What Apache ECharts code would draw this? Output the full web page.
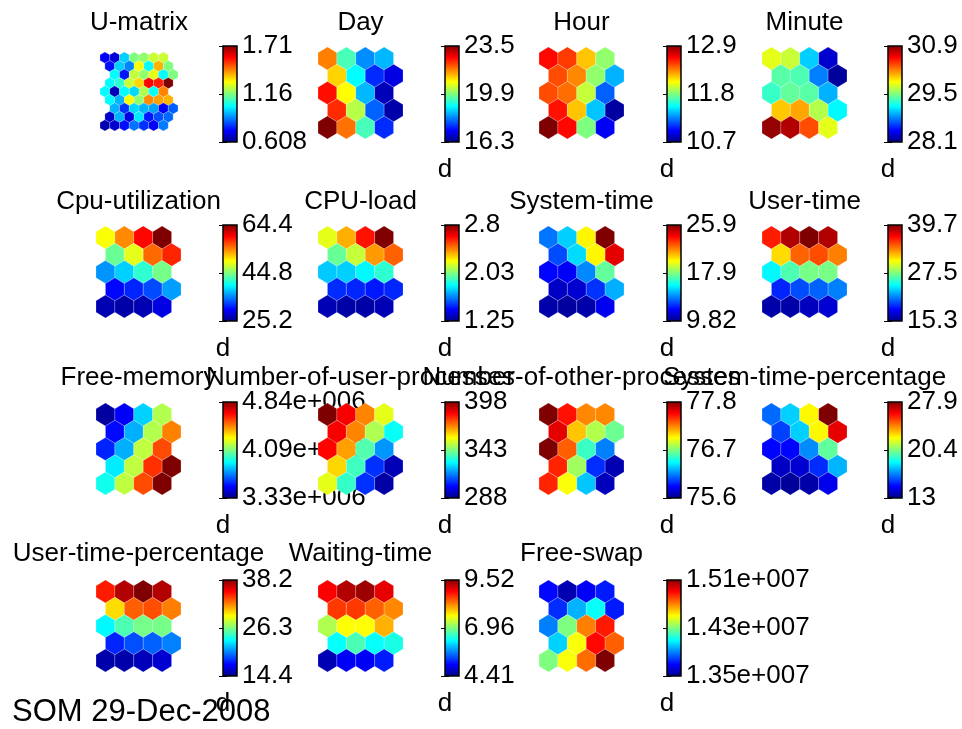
<!DOCTYPE html>
<html>
<head>
<meta charset="utf-8">
<title>SOM component planes</title>
<script src="https://cdn.jsdelivr.net/npm/echarts@6/dist/echarts.min.js"></script>
<style>
  html, body { margin: 0; padding: 0; background: #fff; }
  #chart { width: 962px; height: 729px; }
</style>
</head>
<body>
<div id="chart"></div>
<script>
// panel titles, in figure order
const planeNames = ['U-matrix', 'Day', 'Hour', 'Minute',
  'Cpu-utilization', 'CPU-load', 'System-time', 'User-time',
  'Free-memory', 'Number-of-user-processes', 'Number-of-other-processes', 'System-time-percentage',
  'User-time-percentage', 'Waiting-time', 'Free-swap'];

// colorbar tick labels (min, mid, max)
const tickLabels = [
  ['0.608', '1.16', '1.71'], ['16.3', '19.9', '23.5'], ['10.7', '11.8', '12.9'], ['28.1', '29.5', '30.9'],
  ['25.2', '44.8', '64.4'], ['1.25', '2.03', '2.8'], ['9.82', '17.9', '25.9'], ['15.3', '27.5', '39.7'],
  ['3.33e+006', '4.09e+006', '4.84e+006'], ['288', '343', '398'], ['75.6', '76.7', '77.8'], ['13', '20.4', '27.9'],
  ['14.4', '26.3', '38.2'], ['4.41', '6.96', '9.52'], ['1.35e+007', '1.43e+007', '1.51e+007']
];

// U-matrix, 9 rows x 7 columns, top row first
const umatrix = [
  [0.74, 0.70, 0.97, 1.16, 1.18, 1.24, 1.24],
  [0.76, 0.97, 0.89, 1.29, 1.02, 1.38, 1.16],
  [1.02, 0.77, 1.23, 1.18, 1.27, 1.03, 1.16],
  [1.02, 1.07, 1.24, 1.34, 1.57, 1.54, 1.71],
  [1.02, 0.67, 1.02, 0.98, 1.21, 1.03, 1.43],
  [1.02, 0.94, 1.29, 1.18, 1.42, 1.40, 1.38],
  [0.94, 0.80, 0.98, 0.94, 0.92, 0.74, 0.85],
  [0.69, 0.94, 0.72, 1.00, 0.77, 0.83, 0.86],
  [0.66, 0.69, 0.76, 0.87, 0.80, 0.74, 0.88]
];

// component planes, 5 rows x 4 columns, top row first
const day = [
  [21.7, 19.5, 18.2, 18.5],
  [21.1, 19.0, 17.5, 17.0],
  [22.5, 20.8, 18.5, 16.7],
  [22.3, 20.3, 17.9, 16.6],
  [23.5, 21.8, 19.5, 17.5]
];
const hour = [
  [12.61, 12.50, 12.20, 11.84],
  [12.46, 12.33, 11.84, 11.36],
  [12.46, 12.39, 11.95, 11.18],
  [12.59, 12.20, 11.40, 10.77],
  [12.90, 12.61, 11.80, 10.96]
];
const minute = [
  [29.78, 29.70, 29.02, 28.32],
  [29.39, 29.36, 28.80, 28.18],
  [29.30, 29.42, 29.39, 28.94],
  [30.00, 30.09, 29.64, 29.14],
  [30.84, 30.76, 30.34, 29.78]
];
const cpuUtil = [
  [49.5, 54.2, 59.3, 64.4],
  [44.0, 48.7, 55.4, 58.1],
  [35.8, 38.1, 41.7, 44.4],
  [30.3, 31.5, 33.0, 36.2],
  [27.2, 26.8, 27.2, 29.1]
];
const cpuLoad = [
  [2.18, 2.34, 2.58, 2.80],
  [1.99, 2.13, 2.37, 2.46],
  [1.75, 1.76, 1.82, 1.90],
  [1.51, 1.50, 1.48, 1.50],
  [1.33, 1.31, 1.31, 1.33]
];
const systemTime = [
  [13.7, 15.1, 20.0, 25.9],
  [13.0, 15.3, 20.0, 24.3],
  [11.9, 11.7, 14.0, 17.4],
  [10.9, 11.1, 12.6, 14.6],
  [10.5, 10.3, 10.5, 11.6]
];
const userTime = [
  [36.0, 38.5, 39.7, 38.5],
  [31.4, 34.3, 34.8, 33.6],
  [24.3, 26.3, 27.3, 27.3],
  [19.2, 20.2, 20.7, 21.4],
  [16.3, 16.3, 16.8, 17.3]
];
const freeMemory = [
  [3.38e6, 3.51e6, 3.83e6, 4.16e6],
  [3.53e6, 3.78e6, 4.16e6, 4.46e6],
  [3.57e6, 3.78e6, 4.18e6, 4.54e6],
  [3.87e6, 4.18e6, 4.58e6, 4.84e6],
  [3.92e6, 4.18e6, 4.54e6, 4.84e6]
];
const userProcs = [
  [398, 385, 370, 354],
  [385, 370, 348, 330],
  [384, 367, 338, 318],
  [361, 336, 307, 294],
  [354, 335, 307, 292]
];
const otherProcs = [
  [77.80, 77.49, 77.23, 77.23],
  [77.58, 77.10, 76.81, 76.66],
  [77.80, 77.32, 76.55, 76.15],
  [77.45, 76.77, 75.97, 75.71],
  [77.45, 76.96, 76.30, 75.73]
];
const sysTimePct = [
  [16.4, 17.9, 22.4, 27.9],
  [15.8, 17.9, 22.4, 26.4],
  [14.9, 14.9, 16.9, 20.0],
  [14.0, 14.2, 15.5, 17.5],
  [13.6, 13.4, 13.6, 14.6]
];
const userTimePct = [
  [34.6, 37.0, 38.2, 37.0],
  [30.1, 33.0, 33.4, 32.3],
  [23.2, 25.1, 26.1, 26.1],
  [18.2, 19.2, 19.6, 20.4],
  [15.4, 15.4, 15.8, 16.3]
];
const waitingTime = [
  [8.90, 9.26, 9.37, 9.00],
  [8.60, 8.60, 8.40, 8.20],
  [7.20, 7.60, 7.60, 8.00],
  [6.35, 6.70, 6.35, 6.45],
  [4.67, 5.02, 5.02, 5.18]
];
const freeSwap = [
  [1.371e7, 1.358e7, 1.369e7, 1.374e7],
  [1.377e7, 1.398e7, 1.411e7, 1.374e7],
  [1.390e7, 1.430e7, 1.470e7, 1.486e7],
  [1.403e7, 1.449e7, 1.489e7, 1.475e7],
  [1.430e7, 1.449e7, 1.473e7, 1.510e7]
];

const planes = [umatrix, day, hour, minute, cpuUtil, cpuLoad, systemTime, userTime,
  freeMemory, userProcs, otherProcs, sysTimePct, userTimePct, waitingTime, freeSwap];

// matlab jet colormap
const jet = ['#00007f', '#0000ff', '#007fff', '#00ffff', '#7fff7f', '#ffff00', '#ff7f00', '#ff0000', '#7f0000'];

const FONT = '"Liberation Sans", Arial, Helvetica, sans-serif';
const SQ3 = Math.sqrt(3);

// layout of the 4x4 figure
const hexLeft = [96, 318, 539, 762];
const hexTop = [47, 226, 403, 580];
const cbLeft = [223, 445, 667, 888];
const cbTop = [46, 225, 402, 580];

// row shift of the hexa U-matrix (map rows shifted by a whole umat unit)
const umatShift = [0, 0.5, 1, 0.5, 0, 0.5, 1, 0.5, 0];

function hexItem(params, api) {
  const x = api.value(0), y = api.value(1);
  const r = 1 / SQ3;
  const pts = [];
  for (let k = 0; k < 6; k++) {
    const a = Math.PI / 6 + k * Math.PI / 3;
    pts.push(api.coord([x + r * Math.cos(a), y + r * Math.sin(a)]));
  }
  return {
    type: 'polygon',
    shape: { points: pts },
    style: { fill: api.visual('color'), stroke: 'rgba(255,255,255,0.35)', lineWidth: 0.6 }
  };
}

function colorbarItem(params, api) {
  const p0 = api.coord([0, 2]);
  const p1 = api.coord([1, 0]);
  const stops = jet.map((c, i) => ({ offset: i / (jet.length - 1), color: c }));
  return {
    type: 'rect',
    shape: { x: p0[0], y: p0[1], width: p1[0] - p0[0], height: p1[1] - p0[1] },
    style: {
      fill: new echarts.graphic.LinearGradient(0, 1, 0, 0, stops),
      stroke: '#000', lineWidth: 1.5
    }
  };
}

const grid = [], xAxis = [], yAxis = [], series = [], visualMap = [], title = [];

planes.forEach((vals, i) => {
  const col = i % 4, row = Math.floor(i / 4);
  const isU = i === 0;
  const nRows = vals.length, nCols = vals[0].length;
  const data = [];
  vals.forEach((rowVals, r) => rowVals.forEach((v, c) => {
    const shift = isU ? umatShift[r] : (r % 2) * 0.5;
    data.push([c + shift, r * SQ3 / 2, v]);
  }));

  // hexagon plane
  const gHex = grid.length;
  grid.push(isU
    ? { left: 100, top: 52, width: 78, height: 79 }
    : { left: hexLeft[col], top: hexTop[row], width: 85, height: 92 });
  xAxis.push({ type: 'value', gridIndex: gHex, show: false,
    min: -0.5, max: nCols - 1 + (isU ? 1.5 : 1) });
  yAxis.push({ type: 'value', gridIndex: gHex, show: false, inverse: true,
    min: -1 / SQ3, max: (nRows - 1) * SQ3 / 2 + 1 / SQ3 });
  const sHex = series.length;
  series.push({ type: 'custom', name: planeNames[i], xAxisIndex: gHex, yAxisIndex: yAxis.length - 1,
    renderItem: hexItem, data: data, silent: true });

  const ticks = tickLabels[i];
  visualMap.push({ type: 'continuous', show: false, seriesIndex: sHex, dimension: 2,
    min: parseFloat(ticks[0]), max: parseFloat(ticks[2]), inRange: { color: jet } });

  // colorbar
  const gCb = grid.length;
  grid.push({ left: cbLeft[col], top: cbTop[row], width: 14, height: 96 });
  xAxis.push({ type: 'value', gridIndex: gCb, show: false, min: 0, max: 1 });
  const tickStyle = { show: true, inside: true, length: 4, lineStyle: { color: '#000', width: 1 } };
  yAxis.push({
    type: 'value', gridIndex: gCb, position: 'right', min: 0, max: 2, interval: 1,
    axisLine: { show: false }, axisTick: tickStyle, splitLine: { show: false },
    axisLabel: { margin: 5, color: '#000', fontSize: 26, fontFamily: FONT,
      formatter: v => ticks[v] }
  });
  const yCb = yAxis.length - 1;
  yAxis.push({
    type: 'value', gridIndex: gCb, position: 'left', min: 0, max: 2, interval: 1,
    axisLine: { show: false }, axisTick: tickStyle, splitLine: { show: false },
    axisLabel: { show: false },
    name: isU ? '' : 'd', nameLocation: 'start', nameGap: 15,
    nameTextStyle: { color: '#000', fontSize: 26, fontFamily: FONT, align: 'center', verticalAlign: 'top' }
  });
  series.push({ type: 'custom', xAxisIndex: gCb, yAxisIndex: yCb, renderItem: colorbarItem,
    data: [[0, 0]], silent: true, z: 1 });

  title.push({
    text: planeNames[i], left: (isU ? 139 : hexLeft[col] + 42.5), top: [10, 189, 365, 541][row],
    textAlign: 'center', padding: 0,
    textStyle: { color: '#000', fontSize: 26, fontWeight: 'normal', fontFamily: FONT }
  });
});

title.push({
  text: 'SOM 29-Dec-2008', left: 12, top: 697, padding: 0,
  textStyle: { color: '#000', fontSize: 31, fontWeight: 'normal', fontFamily: FONT }
});

const myChart = echarts.init(document.getElementById('chart'));
myChart.setOption({
  backgroundColor: '#fff',
  animation: false,
  title,
  grid,
  xAxis,
  yAxis,
  visualMap,
  series
});
window.addEventListener('resize', () => { myChart.resize(); });
</script>
</body>
</html>
